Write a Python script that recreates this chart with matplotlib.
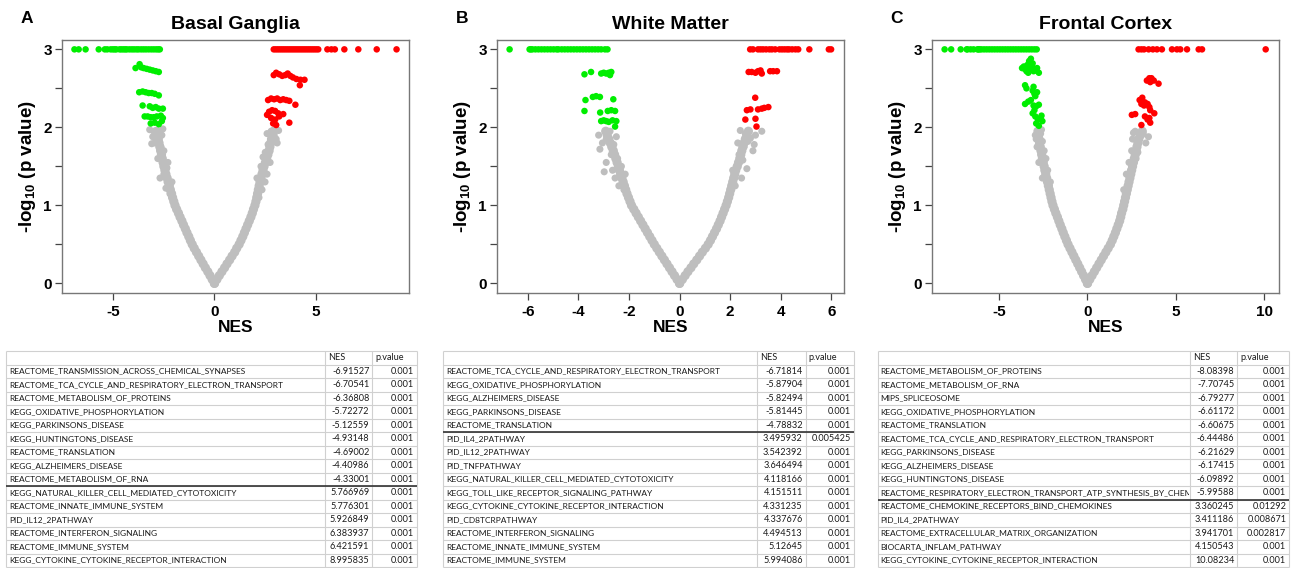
import matplotlib
matplotlib.use("Agg")
import matplotlib.pyplot as plt
from matplotlib.transforms import Bbox, TransformedBbox

plt.rcParams['font.family'] = ['Liberation Sans', 'DejaVu Sans']
plt.rcParams['mathtext.fontset'] = 'custom'
plt.rcParams['mathtext.rm'] = 'Liberation Sans'
plt.rcParams['mathtext.bf'] = 'Liberation Sans:bold'
plt.rcParams['mathtext.default'] = 'bf'
plt.rcParams['axes.unicode_minus'] = False

GREEN = '#00ee00'
RED = '#ff0000'
GRAY = '#bebebe'

# gray (non significant) pathways: -log10 p levels and NES read along each branch
levels = [0.00, 0.05, 0.10, 0.15, 0.20, 0.25, 0.30, 0.35, 0.40, 0.45,
          0.50, 0.55, 0.60, 0.65, 0.70, 0.75, 0.80, 0.85, 0.90, 0.95,
          1.00, 1.05, 1.10, 1.15, 1.20, 1.25, 1.30, 1.35, 1.40, 1.45,
          1.50, 1.55, 1.60, 1.65, 1.70, 1.75, 1.80, 1.85, 1.90, 1.95]

a_gray_left = [0.00, -0.11, -0.22, -0.33, -0.45, -0.56, -0.67, -0.78, -0.89, -1.00,
               -1.10, -1.19, -1.27, -1.36, -1.44, -1.53, -1.61, -1.70, -1.78, -1.87,
               -1.95, -2.01, -2.07, -2.12, -2.18, -2.23, -2.29, -2.34, -2.40, -2.45,
               -2.50, -2.54, -2.58, -2.62, -2.66, -2.70, -2.74, -2.78, -2.82, -2.86]
a_gray_right = [0.00, 0.12, 0.24, 0.37, 0.50, 0.62, 0.75, 0.87, 1.00, 1.10,
                1.22, 1.31, 1.40, 1.48, 1.56, 1.64, 1.72, 1.80, 1.87, 1.93,
                2.00, 2.05, 2.09, 2.13, 2.17, 2.21, 2.25, 2.30, 2.35, 2.40,
                2.45, 2.52, 2.58, 2.64, 2.70, 2.74, 2.78, 2.82, 2.87, 2.92]
a_gray_extra_nes = [-3.10, -2.69, -3.00, -2.60, -2.95, -2.50, -2.80, -2.30, -2.50, -2.10, -2.40, -3.20,
                    -2.55, -2.65, -2.35, -2.20, -3.05, -2.75,
                    2.51, 3.17, 2.60, 2.95, 3.05, 2.40, 2.30, 2.60, 2.10, 2.50, 2.80, 2.65, 2.35,
                    2.20, 3.10, 2.75]
a_gray_extra_y = [1.79, 1.35, 1.95, 1.90, 1.80, 1.70, 1.60, 1.55, 1.40, 1.30, 1.22, 1.97,
                  1.98, 1.75, 1.48, 1.15, 1.88, 1.85,
                  1.68, 1.96, 1.92, 1.90, 1.85, 1.62, 1.50, 1.40, 1.35, 1.30, 1.95, 1.78, 1.20,
                  1.10, 1.80, 1.55]

b_gray_left = [0.00, -0.10, -0.20, -0.30, -0.40, -0.50, -0.60, -0.70, -0.80, -0.90,
               -1.00, -1.09, -1.18, -1.27, -1.36, -1.45, -1.54, -1.63, -1.72, -1.81,
               -1.90, -1.96, -2.02, -2.08, -2.13, -2.18, -2.23, -2.28, -2.33, -2.38,
               -2.42, -2.47, -2.52, -2.57, -2.62, -2.68, -2.74, -2.80, -2.86, -2.92]
b_gray_right = [0.00, 0.11, 0.22, 0.33, 0.45, 0.56, 0.68, 0.79, 0.90, 1.02,
                1.13, 1.22, 1.30, 1.38, 1.46, 1.53, 1.60, 1.66, 1.72, 1.78,
                1.84, 1.89, 1.94, 1.98, 2.02, 2.06, 2.10, 2.14, 2.18, 2.22,
                2.28, 2.33, 2.38, 2.42, 2.46, 2.50, 2.55, 2.60, 2.66, 2.72]
b_gray_extra_nes = [-2.98, -3.20, -3.05, -2.90, -2.75, -2.60, -2.50, -2.70, -2.45, -2.90, -2.30, -2.55,
                    -2.15, -3.15, -2.65, -2.40, -2.20,
                    2.40, 2.60, 3.00, 3.25, 2.80, 2.30, 2.55, 2.90, 2.35, 2.66, 2.50, 2.10, 2.70,
                    2.45, 2.20, 2.95]
b_gray_extra_y = [1.43, 1.90, 1.80, 1.85, 1.95, 1.78, 1.88, 1.65, 1.60, 1.55, 1.50, 1.35,
                  1.40, 1.72, 1.45, 1.25, 1.20,
                  1.96, 1.92, 1.90, 1.95, 1.86, 1.80, 1.75, 1.70, 1.65, 1.47, 1.58, 1.45, 1.82,
                  1.35, 1.25, 1.78]

c_gray_left = [0.00, -0.11, -0.22, -0.33, -0.44, -0.55, -0.66, -0.77, -0.88, -0.99,
               -1.10, -1.19, -1.28, -1.37, -1.45, -1.54, -1.62, -1.70, -1.79, -1.87,
               -1.95, -2.01, -2.06, -2.11, -2.16, -2.21, -2.26, -2.31, -2.36, -2.41,
               -2.45, -2.50, -2.55, -2.59, -2.63, -2.67, -2.71, -2.74, -2.77, -2.80]
c_gray_right = [0.00, 0.13, 0.26, 0.39, 0.52, 0.65, 0.78, 0.91, 1.04, 1.17,
                1.30, 1.40, 1.49, 1.58, 1.66, 1.74, 1.82, 1.88, 1.93, 2.00,
                2.05, 2.10, 2.15, 2.20, 2.25, 2.30, 2.35, 2.40, 2.45, 2.50,
                2.55, 2.60, 2.65, 2.70, 2.75, 2.80, 2.85, 2.90, 3.00, 3.10]
c_gray_extra_nes = [-2.95, -2.60, -2.85, -2.55, -2.45, -2.75, -2.35, -2.25, -2.55, -2.10, -2.65, -2.90,
                    3.45, 3.15, 2.70, 2.55, 3.30, 2.50, 2.85, 2.35, 2.75, 2.20, 2.45, 2.05, 2.60]
c_gray_extra_y = [1.90, 1.97, 1.75, 1.82, 1.70, 1.55, 1.60, 1.45, 1.35, 1.30, 1.92, 1.85,
                  1.88, 1.92, 1.95, 1.85, 1.80, 1.70, 1.68, 1.55, 1.60, 1.40, 1.45, 1.20, 1.93]

# significant pathways (p < 0.01): green = negative NES, red = positive NES
a_green_nes = [-6.92, -6.71, -6.37, -5.72, -5.42, -5.30, -5.13, -5.02, -4.93, -4.85, -4.69, -4.60, -4.50,
               -4.41, -4.33, -4.20, -4.08, -3.97, -3.85, -3.75, -3.62, -3.50, -3.38, -3.25, -3.12, -3.00,
               -2.88, -2.78, -2.70,
               -3.90, -3.70, -3.62, -3.50, -3.35, -3.20, -3.05, -2.90, -2.75,
               -3.72, -3.55, -3.40, -3.25, -3.10, -2.95, -2.75,
               -3.55, -3.20, -3.05, -2.90, -2.75, -2.55,
               -3.45, -3.30, -3.15, -3.00, -2.85, -2.65, -2.55,
               -3.15, -2.95, -2.75, -2.60]
a_green_y = [3.0] * 29 + [2.76, 2.81, 2.77, 2.76, 2.75, 2.74, 2.73, 2.72, 2.71,
                          2.45, 2.46, 2.45, 2.44, 2.44, 2.43, 2.41,
                          2.28, 2.27, 2.25, 2.26, 2.24, 2.24,
                          2.14, 2.14, 2.13, 2.13, 2.14, 2.15, 2.12,
                          2.05, 2.06, 2.04, 2.08]
a_red_nes = [2.93, 3.03, 3.13, 3.23, 3.33, 3.43, 3.53, 3.63, 3.73, 3.83, 3.93, 4.03, 4.13, 4.23, 4.33,
             4.43, 4.53, 4.63, 4.73, 4.83, 4.93, 5.03, 5.13, 5.58, 5.78, 5.95, 6.42, 7.11, 8.02, 9.00,
             2.93, 3.05, 3.20, 3.35, 3.50, 3.62, 3.75, 3.88, 4.05, 4.25, 4.45, 4.22,
             2.65, 2.80, 2.95, 3.10, 3.25, 3.40, 3.55, 3.70, 4.00,
             2.60, 2.70, 2.85, 3.00, 3.15, 2.80, 3.00, 3.20, 3.40, 3.70, 2.90, 3.05]
a_red_y = [3.0] * 30 + [2.67, 2.70, 2.68, 2.66, 2.67, 2.69, 2.66, 2.64, 2.62, 2.61, 2.61, 2.54,
                        2.35, 2.37, 2.36, 2.37, 2.35, 2.36, 2.35, 2.34, 2.29,
                        2.16, 2.20, 2.22, 2.21, 2.18, 2.12, 2.10, 2.14, 2.17, 2.06, 2.05, 2.03]

b_green_nes = [-6.72, -5.93, -5.88, -5.82, -5.70, -5.58, -5.46, -5.34, -5.22, -5.10, -4.98, -4.86,
               -4.79, -4.66, -4.54, -4.42, -4.30, -4.18, -4.06, -3.94, -3.82, -3.70, -3.58, -3.46,
               -3.34, -3.22, -3.10, -2.95, -2.85,
               -3.76, -3.50, -3.10, -3.00, -2.90, -2.80, -2.70, -2.75,
               -3.72, -3.43, -3.30, -3.15, -2.62,
               -3.76, -3.14, -2.84, -2.70, -2.55,
               -3.10, -3.00, -2.90, -2.80, -2.65, -2.50, -2.55]
b_green_y = [3.0] * 29 + [2.68, 2.71, 2.69, 2.70, 2.69, 2.70, 2.71, 2.67,
                          2.35, 2.39, 2.40, 2.39, 2.36,
                          2.21, 2.19, 2.21, 2.22, 2.21,
                          2.08, 2.09, 2.08, 2.07, 2.09, 2.08, 2.01]
b_red_nes = [2.79, 2.90, 3.10, 3.20, 3.30, 3.42, 3.55, 3.65, 3.78, 3.95, 4.05, 4.15, 4.25, 4.33,
             4.45, 4.58, 4.69, 5.13, 5.90, 5.99,
             2.73, 2.85, 3.00, 3.10, 3.20, 3.25, 3.58, 3.70, 3.85,
             2.99,
             2.66, 2.80, 3.10, 3.25, 3.35, 3.51,
             2.60, 3.00, 3.04]
b_red_y = [3.0] * 20 + [2.71, 2.71, 2.70, 2.72, 2.73, 2.69, 2.72, 2.72, 2.72,
                        2.38,
                        2.22, 2.23, 2.23, 2.24, 2.25, 2.26,
                        2.10, 2.11, 2.01]

c_green_nes = [-8.08, -7.71, -7.17, -6.83, -6.79, -6.61, -6.44, -6.22, -6.17, -6.10, -6.00, -5.85,
               -5.70, -5.55, -5.40, -5.25, -5.10, -4.95, -4.80, -4.65, -4.50, -4.35, -4.20, -4.05,
               -3.90, -3.75, -3.60, -3.45, -3.30, -3.15, -3.00, -2.87,
               -3.70, -3.55, -3.40, -3.30, -3.20, -3.10, -3.25, -3.05, -2.90, -2.75, -3.45, -3.15,
               -3.60, -2.85, -3.35,
               -3.53, -3.45, -3.10, -3.00, -2.85, -3.05, -2.95,
               -3.53, -3.35, -3.20, -3.05, -2.90, -2.75, -3.00,
               -3.10, -2.95, -2.80, -2.65, -2.55, -2.90, -2.75, -2.60]
c_green_y = [3.0] * 32 + [2.76, 2.75, 2.80, 2.85, 2.88, 2.82, 2.74, 2.72, 2.73, 2.70, 2.72, 2.78,
                          2.78, 2.76, 2.70,
                          2.54, 2.50, 2.47, 2.43, 2.45, 2.52, 2.40,
                          2.30, 2.33, 2.35, 2.28, 2.27, 2.29, 2.22,
                          2.18, 2.14, 2.10, 2.12, 2.08, 2.05, 2.02, 2.15]
c_red_nes = [2.89, 3.05, 3.20, 3.46, 3.70, 3.93, 4.21, 4.78, 5.06, 5.25, 5.63, 6.29, 6.48, 10.08,
             3.36, 3.50, 3.62, 3.55, 3.75, 4.02,
             2.95, 3.10, 3.05, 3.25, 3.40, 3.50, 3.55, 3.20,
             2.51, 2.70, 3.25, 3.50, 3.78, 3.40, 3.55, 3.05]
c_red_y = [3.0] * 14 + [2.60, 2.63, 2.63, 2.58, 2.60, 2.56,
                        2.35, 2.38, 2.30, 2.32, 2.30, 2.26, 2.22, 2.28,
                        2.16, 2.17, 2.14, 2.12, 2.18, 2.10, 2.06, 2.03]

# tables of top pathways
a_names = ['REACTOME_TRANSMISSION_ACROSS_CHEMICAL_SYNAPSES', 'REACTOME_TCA_CYCLE_AND_RESPIRATORY_ELECTRON_TRANSPORT',
           'REACTOME_METABOLISM_OF_PROTEINS', 'KEGG_OXIDATIVE_PHOSPHORYLATION', 'KEGG_PARKINSONS_DISEASE',
           'KEGG_HUNTINGTONS_DISEASE', 'REACTOME_TRANSLATION', 'KEGG_ALZHEIMERS_DISEASE',
           'REACTOME_METABOLISM_OF_RNA', 'KEGG_NATURAL_KILLER_CELL_MEDIATED_CYTOTOXICITY',
           'REACTOME_INNATE_IMMUNE_SYSTEM', 'PID_IL12_2PATHWAY', 'REACTOME_INTERFERON_SIGNALING',
           'REACTOME_IMMUNE_SYSTEM', 'KEGG_CYTOKINE_CYTOKINE_RECEPTOR_INTERACTION']
a_nes = [-6.91527, -6.70541, -6.36808, -5.72272, -5.12559, -4.93148, -4.69002, -4.40986, -4.33001,
         5.766969, 5.776301, 5.926849, 6.383937, 6.421591, 8.995835]
a_p = [0.001] * 15

b_names = ['REACTOME_TCA_CYCLE_AND_RESPIRATORY_ELECTRON_TRANSPORT', 'KEGG_OXIDATIVE_PHOSPHORYLATION',
           'KEGG_ALZHEIMERS_DISEASE', 'KEGG_PARKINSONS_DISEASE', 'REACTOME_TRANSLATION', 'PID_IL4_2PATHWAY',
           'PID_IL12_2PATHWAY', 'PID_TNFPATHWAY', 'KEGG_NATURAL_KILLER_CELL_MEDIATED_CYTOTOXICITY',
           'KEGG_TOLL_LIKE_RECEPTOR_SIGNALING_PATHWAY', 'KEGG_CYTOKINE_CYTOKINE_RECEPTOR_INTERACTION',
           'PID_CD8TCRPATHWAY', 'REACTOME_INTERFERON_SIGNALING', 'REACTOME_INNATE_IMMUNE_SYSTEM',
           'REACTOME_IMMUNE_SYSTEM']
b_nes = [-6.71814, -5.87904, -5.82494, -5.81445, -4.78832, 3.495932, 3.542392, 3.646494, 4.118166,
         4.151511, 4.331235, 4.337676, 4.494513, 5.12645, 5.994086]
b_p = [0.001, 0.001, 0.001, 0.001, 0.001, 0.005425, 0.001, 0.001, 0.001, 0.001, 0.001, 0.001, 0.001,
       0.001, 0.001]

c_names = ['REACTOME_METABOLISM_OF_PROTEINS', 'REACTOME_METABOLISM_OF_RNA', 'MIPS_SPLICEOSOME',
           'KEGG_OXIDATIVE_PHOSPHORYLATION', 'REACTOME_TRANSLATION',
           'REACTOME_TCA_CYCLE_AND_RESPIRATORY_ELECTRON_TRANSPORT', 'KEGG_PARKINSONS_DISEASE',
           'KEGG_ALZHEIMERS_DISEASE', 'KEGG_HUNTINGTONS_DISEASE',
           'REACTOME_RESPIRATORY_ELECTRON_TRANSPORT_ATP_SYNTHESIS_BY_CHEM',
           'REACTOME_CHEMOKINE_RECEPTORS_BIND_CHEMOKINES', 'PID_IL4_2PATHWAY',
           'REACTOME_EXTRACELLULAR_MATRIX_ORGANIZATION', 'BIOCARTA_INFLAM_PATHWAY',
           'KEGG_CYTOKINE_CYTOKINE_RECEPTOR_INTERACTION']
c_nes = [-8.08398, -7.70745, -6.79277, -6.61172, -6.60675, -6.44486, -6.21629, -6.17415, -6.09892,
         -5.99588, 3.360245, 3.411186, 3.941701, 4.150543, 10.08234]
c_p = [0.001] * 10 + [0.01292, 0.008671, 0.002817, 0.001, 0.001]

W, H = 1299, 568
fig = plt.figure(figsize=(W / 100, H / 100), dpi=100)


def box(x0, x1, y0=40.0, y1=292.7):
    return [x0 / W, 1 - y1 / H, (x1 - x0) / W, (y1 - y0) / H]


panels = [
    dict(letter='A', title='Basal Ganglia', rect=box(61.7, 409.3), xlim=(-7.55, 9.63), xticks=[-5, 0, 5],
         gl=a_gray_left, gr=a_gray_right, gx=a_gray_extra_nes, gy=a_gray_extra_y,
         gn=a_green_nes, gv=a_green_y, rn=a_red_nes, rv=a_red_y),
    dict(letter='B', title='White Matter', rect=box(496.7, 844.0), xlim=(-7.23, 6.50),
         xticks=[-6, -4, -2, 0, 2, 4, 6],
         gl=b_gray_left, gr=b_gray_right, gx=b_gray_extra_nes, gy=b_gray_extra_y,
         gn=b_green_nes, gv=b_green_y, rn=b_red_nes, rv=b_red_y),
    dict(letter='C', title='Frontal Cortex', rect=box(931.7, 1279.3), xlim=(-8.81, 10.85),
         xticks=[-5, 0, 5, 10],
         gl=c_gray_left, gr=c_gray_right, gx=c_gray_extra_nes, gy=c_gray_extra_y,
         gn=c_green_nes, gv=c_green_y, rn=c_red_nes, rv=c_red_y),
]

for p in panels:
    ax = fig.add_axes(p['rect'])
    ax.scatter(p['gl'], levels, s=44, c=GRAY, edgecolors='none', zorder=2)
    ax.scatter(p['gr'], levels, s=44, c=GRAY, edgecolors='none', zorder=2)
    ax.scatter(p['gx'], p['gy'], s=26, c=GRAY, edgecolors='none', zorder=2)
    ax.scatter(p['gn'], p['gv'], s=22, c=GREEN, edgecolors='none', zorder=3)
    ax.scatter(p['rn'], p['rv'], s=22, c=RED, edgecolors='none', zorder=3)
    ax.set_xlim(*p['xlim'])
    ax.set_ylim(-0.12, 3.12)
    ax.set_xticks(p['xticks'])
    ax.set_yticks([0, 1, 2, 3])
    ax.set_yticks([0.5, 1.5, 2.5], minor=True)
    for s in ax.spines.values():
        s.set_color('#777777')
        s.set_linewidth(1.0)
    ax.tick_params(axis='both', which='both', direction='out', length=5, width=0.9, color='#444444')
    ax.tick_params(axis='x', pad=3.5, labelsize=11)
    ax.tick_params(axis='y', pad=2, labelsize=11)
    for lab in ax.get_xticklabels() + ax.get_yticklabels():
        lab.set_fontweight('bold')
    ax.set_xlabel('NES', fontsize=12.5, fontweight='bold', labelpad=1)
    ax.set_ylabel('-log$_{10}$ (p value)', fontsize=13.5, fontweight='bold', labelpad=4)
    ax.set_title(p['title'], fontsize=14, fontweight='bold', pad=8)
    ax.text(-0.1, 1.085, p['letter'], transform=ax.transAxes, fontsize=12.5, fontweight='bold',
            ha='center', va='center')

# tables drawn in pixel coordinates on an overlay axes
tab = fig.add_axes([0, 0, 1, 1])
tab.set_xlim(0, W)
tab.set_ylim(H, 0)
tab.axis('off')

TOP = 351.0
ROW = 13.5
GRID = '#d0d0d0'
TEXT = '#1a1a1a'
FS_NAME = 6.05
FS_NUM = 6.6

tables = [
    (a_names, a_nes, a_p, (6.0, 325.0, 372.3, 417.3)),
    (b_names, b_nes, b_p, (443.3, 756.7, 805.7, 854.3)),
    (c_names, c_nes, c_p, (877.7, 1190.0, 1237.3, 1289.3)),
]

for names, nes, pv, (x0, x1, x2, x3) in tables:
    n = len(names) + 1
    bottom = TOP + n * ROW
    for i in range(n + 1):
        y = TOP + i * ROW
        tab.plot([x0, x3], [y, y], color=GRID, lw=0.8, solid_capstyle='butt')
    for x in (x0, x1, x2, x3):
        tab.plot([x, x], [TOP, bottom], color=GRID, lw=0.8, solid_capstyle='butt')
    name_clip = TransformedBbox(Bbox([[x0, TOP], [x1 - 0.5, bottom]]), tab.transData)
    yc = TOP + ROW / 2
    tab.text(x1 + 3, yc, 'NES', fontsize=FS_NUM, family='Lato', color=TEXT, ha='left', va='center')
    tab.text(x2 + 3, yc, 'p.value', fontsize=FS_NUM, family='Lato', color=TEXT, ha='left', va='center')
    for i, (nm, v, pp) in enumerate(zip(names, nes, pv)):
        yc = TOP + (i + 1.5) * ROW
        t = tab.text(x0 + 3, yc, nm, fontsize=FS_NAME, family='Lato', color=TEXT, ha='left', va='center')
        t.set_clip_box(name_clip)
        t.set_clip_on(True)
        tab.text(x2 - 3, yc, str(v), fontsize=FS_NUM, family='Lato', color=TEXT, ha='right', va='center')
        tab.text(x3 - 3, yc, str(pp), fontsize=FS_NUM, family='Lato', color=TEXT, ha='right', va='center')
    # dark line between negative and positive NES blocks
    k = sum(1 for v in nes if v < 0)
    ysep = TOP + (k + 1) * ROW
    tab.plot([x0, x3], [ysep, ysep], color='#333333', lw=1.2, solid_capstyle='butt')

fig.savefig('out.png', dpi=100)
